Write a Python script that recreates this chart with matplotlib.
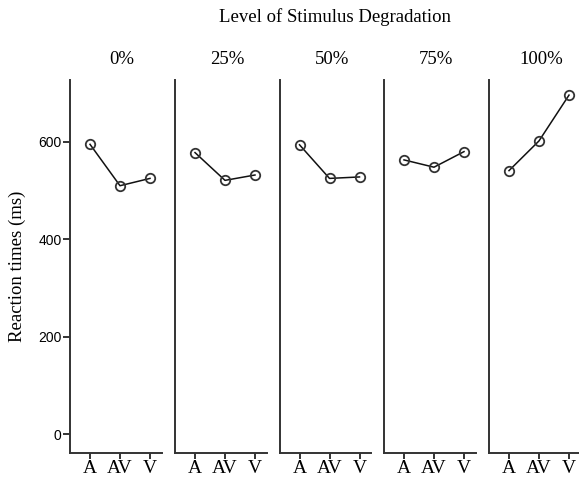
import matplotlib
matplotlib.use("Agg")
import matplotlib.pyplot as plt
import matplotlib.transforms as mtransforms

conditions = ["A", "AV", "V"]
levels = ["0%", "25%", "50%", "75%", "100%"]
rt_0 = [595, 510, 525]
rt_25 = [578, 521, 532]
rt_50 = [594, 525, 528]
rt_75 = [563, 548, 580]
rt_100 = [541, 602, 696]
series = [rt_0, rt_25, rt_50, rt_75, rt_100]
yticks = [0, 200, 400, 600]

W, H = 579, 478
fig = plt.figure(figsize=(W / 100, H / 100), dpi=100)
fig.patch.set_facecolor("white")

serif = ["Liberation Serif", "DejaVu Serif"]
sans = ["Liberation Sans", "DejaVu Sans"]
spine_col = "#333333"

lefts = [70, 175, 279.5, 384, 489]
pw = 92
bottom_px, top_px = 452.7, 80

for i, (lab, vals) in enumerate(zip(levels, series)):
    ax = fig.add_axes([lefts[i] / W, 1 - bottom_px / H, pw / W, (bottom_px - top_px) / H])
    x = list(range(len(conditions)))
    ax.plot(x, vals, color="#111111", lw=1.1, marker="o", ms=6.8,
            mfc="none", mec="#333333", mew=1.3, zorder=3)
    ax.set_xlim(-0.667, 2.4)
    ax.set_ylim(-38, 727)
    for s in ["top", "right"]:
        ax.spines[s].set_visible(False)
    for s in ["left", "bottom"]:
        ax.spines[s].set_color(spine_col)
        ax.spines[s].set_linewidth(1.4)
    ax.set_xticks(x)
    ax.set_xticklabels(conditions, fontfamily=serif, fontsize=14)
    ax.tick_params(axis="x", length=4.5, width=1.4, color=spine_col, pad=1)
    if i == 0:
        ax.set_yticks(yticks)
        ax.set_yticklabels([str(v) for v in yticks], fontfamily=sans, fontsize=10)
        ax.tick_params(axis="y", length=5, width=1.4, color=spine_col, pad=1)
        ax.set_ylabel("Reaction times (ms)", fontfamily=serif, fontsize=13.5, labelpad=9)
    else:
        ax.set_yticks([])
    trans = mtransforms.blended_transform_factory(ax.transData, fig.transFigure)
    ax.text(1.07, 1 - 59 / H, lab, transform=trans, ha="center", va="center",
            fontfamily=serif, fontsize=13.5)

fig.text(335 / W, 1 - 17 / H, "Level of Stimulus Degradation", ha="center", va="center",
         fontfamily=serif, fontsize=13.5)

fig.savefig("out.png", dpi=100, facecolor="white")
